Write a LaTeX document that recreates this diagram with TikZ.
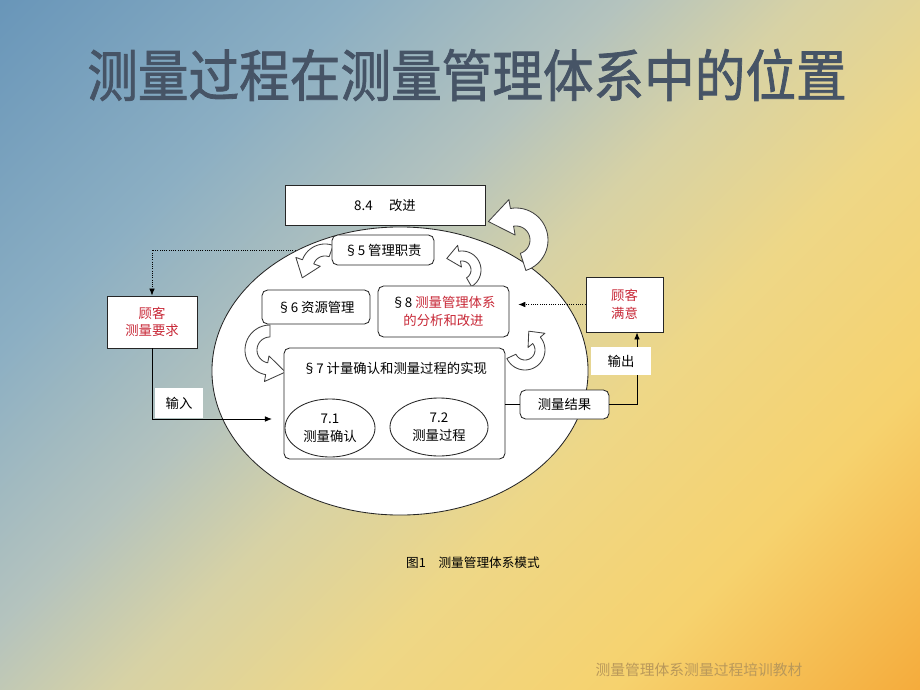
\documentclass[tikz,border=0pt]{standalone}
\usepackage{fontspec}
\setmainfont{Noto Sans CJK SC}
\newfontfamily\titlefont[FakeBold=1.4]{Noto Sans CJK SC}
\usetikzlibrary{positioning}
\usetikzlibrary{backgrounds}
\usetikzlibrary{arrows.meta}
\usetikzlibrary{shapes}

\definecolor{bgA}{RGB}{105,150,185}
\definecolor{bgB}{RGB}{140,175,195}
\definecolor{bgC}{RGB}{180,195,190}
\definecolor{bgD}{RGB}{215,210,165}
\definecolor{bgE}{RGB}{238,215,135}
\definecolor{bgF}{RGB}{246,210,110}
\definecolor{bgG}{RGB}{245,172,60}
\definecolor{redtxt}{RGB}{200,40,55}
\definecolor{titlecol}{RGB}{70,84,102}
\definecolor{footcol}{RGB}{185,152,90}

\pgfdeclarehorizontalshading{slidebg}{100bp}{color(0bp)=(bgA); color(14.6bp)=(bgA); color(30bp)=(bgB); color(42bp)=(bgC); color(50bp)=(bgD); color(60bp)=(bgE); color(72bp)=(bgF); color(85.4bp)=(bgG); color(100bp)=(bgG)}

% curved block arrow: centre x, centre y, radius, start, end, half body, half head, head length
\newcommand{\bendarrow}[8]{%
  \filldraw[bendarr]
    plot[domain=#4:#5,samples=30] ({#1+(#3+#6)*cos(\x)},{#2+(#3+#6)*sin(\x)})
    -- ({#1+(#3+#7)*cos(#5)},{#2+(#3+#7)*sin(#5)})
    -- ({#1+#3*cos(#5)+#8*cos((#5)-90)},{#2+#3*sin(#5)+#8*sin((#5)-90)})
    -- ({#1+(#3-#7)*cos(#5)},{#2+(#3-#7)*sin(#5)})
    -- plot[domain=#5:#4,samples=30] ({#1+(#3-#6)*cos(\x)},{#2+(#3-#6)*sin(\x)})
    -- cycle;
}

\begin{document}
\begin{tikzpicture} [x=0.025cm, y=-0.025cm,
            every node/.append style={align=center, font=\fontsize{9.5}{12.5}\selectfont},
            plainbox/.style={draw=black!85, fill=white, line width=0.6pt, inner sep=0pt},
            roundbox/.style={plainbox, rounded corners=4pt},
            ovalbox/.style={plainbox, ellipse},
            tag/.style={fill=white, inner sep=0pt},
            bendarr/.style={draw=black!75, fill=white, line width=0.6pt, line join=round},
            flow/.style={-{Latex[length=5pt,width=4pt]}, line width=0.6pt},
            hint/.style={flow, densely dotted}]
\useasboundingbox (0,0) rectangle (920,690);

\node (title) at (467,75) [text=titlecol, font=\titlefont\fontsize{40}{42}\selectfont] {\scalebox{0.9}[1]{测量过程在测量管理体系中的位置}};

\node (system) at (400,371) [ovalbox, minimum width=9.4cm, minimum height=7.2cm] {};

\bendarrow{516}{240}{23}{72}{-100}{9}{18}{24}
\bendarrow{325}{268}{18}{-70}{-160}{6}{13}{17}
\bendarrow{462}{270}{14}{60}{-100}{5}{11}{13}
\bendarrow{270}{350}{19}{-90}{-260}{6}{13}{19}
\bendarrow{525}{350}{15}{155}{-40}{5}{11}{12}

\node (improve) at (385,205) [plainbox, minimum width=5cm, minimum height=1cm] {8.4\quad\ 改进}
node (mgmt) at (383,250) [roundbox, minimum width=2.55cm, minimum height=0.75cm] {§5 管理职责}
node (resource) at (316,307) [roundbox, minimum width=2.7cm, minimum height=0.85cm] {§6 资源管理}
node (analysis) at (443.5,311.5) [roundbox, minimum width=3.275cm, minimum height=1.275cm] {§8 \textcolor{redtxt}{测量管理体系}\\\textcolor{redtxt}{的分析和改进}}
node (realize) at (394.5,403.5) [roundbox, minimum width=5.525cm, minimum height=2.775cm] {}
node (req) at (152,322) [plainbox, minimum width=2.25cm, minimum height=1.3cm, text=redtxt] {顾客\\测量要求}
node (sat) at (624.5,304.5) [plainbox, minimum width=1.925cm, minimum height=1.375cm, text=redtxt] {顾客\\满意}
node (result) at (564.5,404.5) [roundbox, minimum width=2.225cm, minimum height=0.725cm] {测量结果}
;
\node (realizetitle) at (395,368) {§7 计量确认和测量过程的实现};
\node (confirm) at (330,428) [ovalbox, minimum width=2.25cm, minimum height=1.45cm] {7.1\\测量确认};
\node (process) at (439,427) [ovalbox, minimum width=2.45cm, minimum height=1.45cm] {7.2\\测量过程};

\node (inlabel) at (179,403) [tag, minimum width=1.2cm, minimum height=0.75cm] {输入};
\coordinate (inend) at (272,419);
\draw[flow] (req.south) |- (inend);

\draw[line width=0.6pt] (result.west) -- (result.west -| realize.east);
\draw[flow] (result.east) -| ([xshift=0.3125cm]sat.south);
\node (outlabel) at (621,361) [tag, minimum width=1.5cm, minimum height=0.7cm] {输出};

\draw[hint, shorten >=0.22cm] (sat.west) -- (sat.west -| analysis.east);

\begin{scope}[on background layer]
\shade[shading=slidebg, shading angle=-45] (0,0) rectangle (920,690);
\draw[hint] (mgmt.west) -| (req.north);
\end{scope}

\node (caption) at (473,563) [font=\fontsize{9}{11}\selectfont] {图1\quad 测量管理体系模式};
\node (footer) at (699,670) [text=footcol, font=\fontsize{10.5}{12}\selectfont] {测量管理体系测量过程培训教材};
\end{tikzpicture}
\end{document}
